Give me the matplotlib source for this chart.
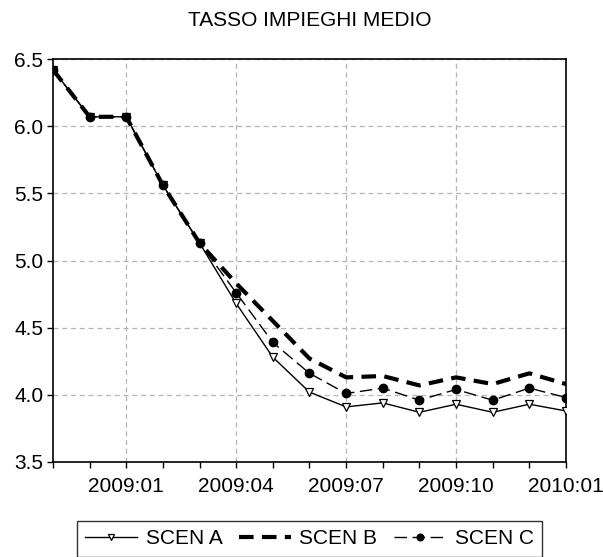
import numpy as np
import matplotlib.pyplot as plt

plt.rcParams['font.family'] = ['Liberation Sans', 'DejaVu Sans']

# monthly observations 2008:11 .. 2010:01
months = ['2008:11', '2008:12', '2009:01', '2009:02', '2009:03', '2009:04',
          '2009:05', '2009:06', '2009:07', '2009:08', '2009:09', '2009:10',
          '2009:11', '2009:12', '2010:01']
scen_a = [6.42, 6.07, 6.07, 5.56, 5.13, 4.68, 4.28, 4.02, 3.91, 3.94,
          3.87, 3.93, 3.87, 3.93, 3.88]
scen_b = [6.42, 6.07, 6.07, 5.56, 5.13, 4.83, 4.55, 4.27, 4.13, 4.14,
          4.07, 4.13, 4.08, 4.16, 4.08]
scen_c = [6.42, 6.07, 6.07, 5.56, 5.13, 4.76, 4.39, 4.16, 4.01, 4.05,
          3.96, 4.04, 3.96, 4.05, 3.98]
tick_labels = ['2009:01', '2009:04', '2009:07', '2009:10', '2010:01']

x = np.arange(len(months))

fig = plt.figure(figsize=(6.03, 5.57), dpi=100)
ax = fig.add_axes([0.0879, 0.1706, 0.8507, 0.7234])

ax.plot(x, scen_a, color='black', lw=1.0, marker='v', markersize=6,
        markerfacecolor='white', markeredgecolor='black', markeredgewidth=0.9,
        label='SCEN A', zorder=3)
ax.plot(x, scen_b, color='black', lw=3.0, linestyle=(0, (3.5, 2)),
        label='SCEN B', zorder=4)
ax.plot(x, scen_c, color='black', lw=1.0, linestyle=(0, (9, 4)), marker='o',
        markersize=6, markerfacecolor='black', label='SCEN C', zorder=3)

ax.set_xlim(0, len(months) - 1)
ax.set_ylim(3.5, 6.5)
major = [months.index(t) for t in tick_labels]
ax.set_xticks(major)
ax.set_xticklabels(tick_labels)
ax.set_xticks(x, minor=True)
ax.set_yticks([3.5, 4.0, 4.5, 5.0, 5.5, 6.0, 6.5])
ax.set_yticklabels(['3.5', '4.0', '4.5', '5.0', '5.5', '6.0', '6.5'])

ax.tick_params(axis='both', which='major', direction='out', length=4,
               width=1, labelsize=15, colors='black')
ax.tick_params(axis='x', which='minor', direction='out', length=4, width=1)
ax.tick_params(axis='x', pad=7)
ax.tick_params(axis='y', pad=3)

ax.grid(True, which='major', color='#b4b4b4', linestyle=(0, (4, 3)), lw=0.9)
for s in ax.spines.values():
    s.set_linewidth(1.2)

ax.set_title('TASSO IMPIEGHI MEDIO', fontsize=15, pad=24)

fig.legend(loc='upper center', bbox_to_anchor=(0.513, 0.0646),
           borderaxespad=0, ncol=3, frameon=True, fancybox=False,
           edgecolor='black', fontsize=15, handlelength=2.5,
           borderpad=0.4, handletextpad=0.4, columnspacing=0.8,
           markerscale=0.8)
leg = fig.legends[0]
leg.get_frame().set_linewidth(1.0)

fig.savefig('out.png', dpi=100)
